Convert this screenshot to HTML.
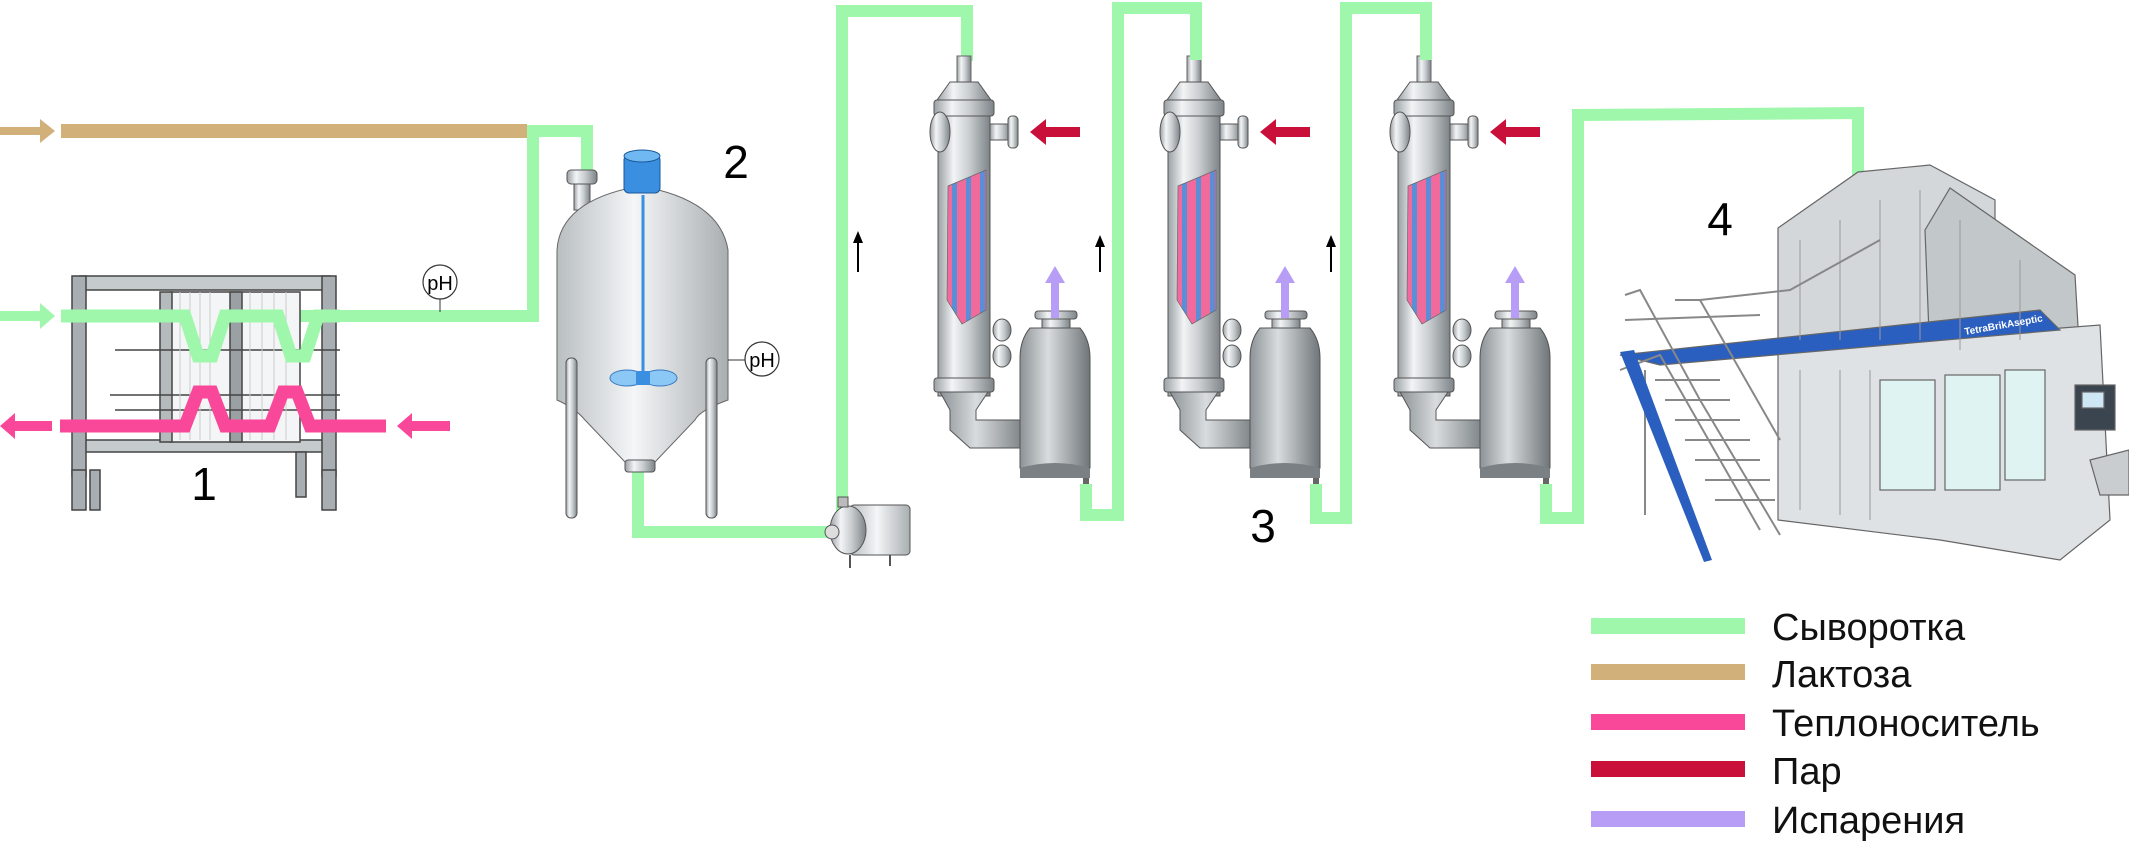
<!DOCTYPE html>
<html><head><meta charset="utf-8"><style>
html,body{margin:0;padding:0;background:#fff;width:2129px;height:846px;overflow:hidden}
svg{display:block}
text{font-family:"Liberation Sans","DejaVu Sans",sans-serif}
</style></head><body>
<svg width="2129" height="846" viewBox="0 0 2129 846" xmlns="http://www.w3.org/2000/svg">
<defs>
<linearGradient id="steel" x1="0" x2="1" y1="0" y2="0">
<stop offset="0" stop-color="#9aa0a4"/><stop offset="0.3" stop-color="#f2f4f5"/><stop offset="0.6" stop-color="#c9cdd0"/><stop offset="1" stop-color="#7d8387"/></linearGradient>
<linearGradient id="tankg" x1="0" x2="1"><stop offset="0" stop-color="#b9bec1"/><stop offset="0.45" stop-color="#f4f6f7"/><stop offset="1" stop-color="#a9aeb1"/></linearGradient>
<linearGradient id="dark" x1="0" x2="1"><stop offset="0" stop-color="#8c9296"/><stop offset="0.4" stop-color="#d9dcde"/><stop offset="1" stop-color="#6f7579"/></linearGradient>
<pattern id="stripes" width="14" height="10" patternUnits="userSpaceOnUse"><rect width="14" height="10" fill="#f06a9c"/><rect width="5" height="10" fill="#5a8fd8"/></pattern>
<g id="evap">
 <rect x="957" y="56" width="14" height="30" fill="url(#steel)" stroke="#666"/>
 <path d="M937 100 L950 82 L978 82 L991 100 Z" fill="url(#steel)" stroke="#555"/>
 <rect x="934" y="100" width="60" height="16" rx="3" fill="url(#steel)" stroke="#555"/>
 <rect x="938" y="116" width="52" height="280" fill="url(#steel)" stroke="#555"/>
 <ellipse cx="940" cy="132" rx="10" ry="20" fill="url(#steel)" stroke="#555"/>
 <rect x="990" y="124" width="20" height="16" fill="url(#steel)" stroke="#555"/>
 <rect x="1008" y="116" width="10" height="32" rx="4" fill="url(#steel)" stroke="#555"/>
 <path d="M948 186 L986 170 L986 310 L962 324 L947 300 Z" fill="url(#stripes)" stroke="#666" stroke-width="0.7"/>
 <ellipse cx="1002" cy="330" rx="9" ry="11" fill="url(#steel)" stroke="#555"/>
 <ellipse cx="1002" cy="356" rx="9" ry="11" fill="url(#steel)" stroke="#555"/>
 <rect x="934" y="378" width="60" height="14" rx="3" fill="url(#steel)" stroke="#555"/>
 <path d="M940 392 L988 392 L976 410 L976 420 L1030 420 L1030 448 L970 448 L950 430 L950 410 Z" fill="url(#dark)" stroke="#555"/>
 <rect x="1042" y="318" width="28" height="10" fill="url(#steel)" stroke="#555"/>
 <rect x="1035" y="311" width="42" height="8" rx="3" fill="url(#steel)" stroke="#555"/>
 <path d="M1030 328 Q1020 340 1020 358 L1020 468 L1090 468 L1090 358 Q1090 340 1080 328 Z" fill="url(#dark)" stroke="#555"/>
 <path d="M1020 468 Q1055 458 1090 468 L1090 478 L1020 478 Z" fill="#7a8084"/>
 <rect x="1083" y="478" width="6" height="8" fill="#666"/>
 <polygon points="1030,132 1046,119 1046,127 1080,127 1080,137 1046,137 1046,145" fill="#c8103a"/>
 <polygon points="1055,266 1045,283 1051,283 1051,318 1059,318 1059,283 1065,283" fill="#b79df5"/>
</g>
</defs>

<!-- lactose -->
<polygon points="0,127 40,127 40,119 55,131 40,143 40,135 0,135" fill="#d2b07a"/>
<rect x="61" y="124" width="466" height="14" fill="#d2b07a"/>
<path d="M527 131 L587 131 L587 174" fill="none" stroke="#9ff7ab" stroke-width="12"/>
<path d="M533 131 L533 316 L61 316" fill="none" stroke="#9ff7ab" stroke-width="12"/>

<!-- HX 1 -->
<g stroke="#444" stroke-width="1.5">
 <rect x="80" y="276" width="250" height="14" fill="#c5cacd"/>
 <rect x="80" y="440" width="250" height="12" fill="#c5cacd"/>
 <rect x="72" y="276" width="14" height="200" fill="#a8aeb2"/>
 <rect x="322" y="276" width="14" height="200" fill="#a8aeb2"/>
 <rect x="170" y="292" width="130" height="150" fill="#f4f5f6"/>
 <rect x="230" y="292" width="12" height="150" fill="#9aa0a4"/>
 <rect x="160" y="292" width="12" height="150" fill="#b5babd"/>
 <line x1="115" y1="350" x2="340" y2="350"/><line x1="110" y1="395" x2="340" y2="395"/><line x1="115" y1="410" x2="340" y2="410"/>
 <rect x="72" y="470" width="14" height="40" fill="#a8aeb2"/><rect x="90" y="470" width="10" height="40" fill="#a8aeb2"/>
 <rect x="322" y="470" width="14" height="40" fill="#a8aeb2"/><rect x="296" y="452" width="10" height="45" fill="#a8aeb2"/>
</g>
<g stroke="#ccc" stroke-width="1"><line x1="180" y1="292" x2="180" y2="440"/><line x1="190" y1="292" x2="190" y2="440"/><line x1="200" y1="292" x2="200" y2="440"/><line x1="210" y1="292" x2="210" y2="440"/><line x1="250" y1="292" x2="250" y2="440"/><line x1="262" y1="292" x2="262" y2="440"/><line x1="274" y1="292" x2="274" y2="440"/><line x1="286" y1="292" x2="286" y2="440"/></g>
<path d="M61 316 L185 316 L198 356 L212 356 L225 316 L278 316 L291 356 L305 356 L318 316 L340 316" fill="none" stroke="#9ff7ab" stroke-width="13"/>
<polygon points="0,311 40,311 40,303 55,316 40,329 40,321 0,321" fill="#9ff7ab"/>
<path d="M60 426 L185 426 L198 392 L212 392 L225 426 L270 426 L283 392 L297 392 L310 426 L386 426" fill="none" stroke="#f9489a" stroke-width="13"/>
<polygon points="0,426 15,413 15,421 52,421 52,431 15,431 15,439" fill="#f9489a"/>
<polygon points="397,426 412,413 412,421 450,421 450,431 412,431 412,439" fill="#f9489a"/>
<line x1="440" y1="298" x2="440" y2="312" stroke="#333"/>
<circle cx="440" cy="282" r="17" fill="#fff" stroke="#333" stroke-width="1.2"/>
<text x="440" y="290" font-size="20" text-anchor="middle">pH</text>
<text x="204" y="500" font-size="46" text-anchor="middle">1</text>

<!-- tank -->
<path d="M638 468 L638 532 L828 532" fill="none" stroke="#9ff7ab" stroke-width="12"/>
<rect x="574" y="180" width="16" height="30" fill="url(#steel)" stroke="#555"/>
<rect x="567" y="170" width="30" height="14" rx="4" fill="url(#steel)" stroke="#555"/>
<path d="M557 250 Q560 200 640 186 Q720 200 728 250 L728 400 Q700 410 695 420 L655 462 L625 462 L585 420 Q575 408 557 400 Z" fill="url(#tankg)" stroke="#666"/>
<rect x="625" y="460" width="30" height="12" rx="3" fill="url(#steel)" stroke="#555"/>
<rect x="566" y="358" width="11" height="160" rx="5" fill="url(#steel)" stroke="#555"/>
<rect x="706" y="358" width="11" height="160" rx="5" fill="url(#steel)" stroke="#555"/>
<rect x="624" y="155" width="36" height="38" rx="5" fill="#3a8fe0" stroke="#1a5a9a"/>
<ellipse cx="642" cy="156" rx="18" ry="6" fill="#6fb8f2" stroke="#1a5a9a"/>
<line x1="643" y1="195" x2="643" y2="372" stroke="#3a8fe0" stroke-width="3"/>
<ellipse cx="627" cy="378" rx="17" ry="8" fill="#8cc8f5" stroke="#3a7ac0"/>
<ellipse cx="660" cy="378" rx="17" ry="8" fill="#8cc8f5" stroke="#3a7ac0"/>
<rect x="636" y="371" width="14" height="14" fill="#3a8fe0"/>
<line x1="728" y1="360" x2="745" y2="360" stroke="#333"/>
<circle cx="762" cy="359" r="17" fill="#fff" stroke="#333" stroke-width="1.2"/>
<text x="762" y="367" font-size="20" text-anchor="middle">pH</text>
<text x="736" y="178" font-size="46" text-anchor="middle">2</text>

<!-- pump -->
<path d="M842 520 L842 11 L967 11 L967 61" fill="none" stroke="#9ff7ab" stroke-width="12"/>
<rect x="850" y="505" width="60" height="50" rx="4" fill="url(#tankg)" stroke="#555"/>
<ellipse cx="848" cy="530" rx="18" ry="24" fill="url(#steel)" stroke="#555"/>
<circle cx="832" cy="532" r="7" fill="#ddd" stroke="#555"/>
<rect x="838" y="497" width="10" height="10" fill="#bbb" stroke="#555"/>
<line x1="850" y1="555" x2="850" y2="568" stroke="#555" stroke-width="2"/><line x1="890" y1="555" x2="890" y2="566" stroke="#555" stroke-width="2"/>
<g fill="#000"><polygon points="858,231 853,243 863,243"/><rect x="857" y="242" width="2" height="30"/>
<polygon points="1100,235 1095,247 1105,247"/><rect x="1099" y="246" width="2" height="26"/>
<polygon points="1331,235 1326,247 1336,247"/><rect x="1330" y="246" width="2" height="26"/></g>

<use href="#evap"/>
<use href="#evap" transform="translate(230,0)"/>
<use href="#evap" transform="translate(460,0)"/>
<path d="M1086 484 L1086 515 L1118 515 L1118 8 L1196 8 L1196 60" fill="none" stroke="#9ff7ab" stroke-width="12"/>
<path d="M1316 484 L1316 518 L1346 518 L1346 8 L1426 8 L1426 60" fill="none" stroke="#9ff7ab" stroke-width="12"/>
<path d="M1546 484 L1546 518 L1578 518 L1578 115 L1858 113 L1858 178" fill="none" stroke="#9ff7ab" stroke-width="12"/>
<text x="1263" y="542" font-size="46" text-anchor="middle">3</text>

<!-- filling machine -->
<g stroke="#666" stroke-width="1.2">
 <polygon points="1778,228 1858,172 1930,165 1995,200 1995,350 1778,350" fill="#d3d7da"/>
 <polygon points="1925,230 1950,188 2075,275 2080,360 1930,360" fill="#c2c7ca"/>
 <polygon points="1778,350 2100,325 2110,520 2060,560 1940,540 1778,520" fill="#dfe2e4"/>
 <polygon points="1620,355 2040,310 2060,330 1660,365" fill="#2b5fbf"/>
 <rect x="1880" y="380" width="55" height="110" fill="#dff3f2"/>
 <rect x="1945" y="375" width="55" height="115" fill="#dff3f2"/>
 <rect x="2005" y="370" width="40" height="110" fill="#dff3f2"/>
 <rect x="2075" y="385" width="40" height="45" fill="#3a4550"/>
 <rect x="2082" y="392" width="22" height="16" fill="#cfe6f5"/>
 <polygon points="2090,460 2129,450 2129,495 2100,495" fill="#c9cdd0"/>
</g>
<g stroke="#999" stroke-width="1" fill="none">
 <line x1="1800" y1="240" x2="1800" y2="340"/><line x1="1840" y1="220" x2="1840" y2="340"/><line x1="1880" y1="200" x2="1880" y2="340"/><line x1="1920" y1="190" x2="1920" y2="340"/>
 <line x1="1800" y1="370" x2="1800" y2="510"/><line x1="1840" y1="370" x2="1840" y2="515"/><line x1="1870" y1="370" x2="1870" y2="520"/>
 <line x1="1960" y1="220" x2="1960" y2="350"/><line x1="2020" y1="260" x2="2020" y2="340"/>
</g>
<text x="1965" y="335" font-size="10" fill="#fff" font-weight="bold" transform="rotate(-10 1965 335)">TetraBrikAseptic</text>
<g stroke="#888" stroke-width="2" fill="none">
 <polyline points="1620,370 1660,355 1760,530"/>
 <polyline points="1625,295 1640,290 1700,400 1780,535"/>
 <polyline points="1675,300 1700,300 1780,440"/>
 <polyline points="1700,300 1790,290 1880,240"/>
 <line x1="1625" y1="320" x2="1760" y2="315"/>
 <line x1="1655" y1="380" x2="1720" y2="380"/><line x1="1665" y1="400" x2="1730" y2="400"/><line x1="1675" y1="420" x2="1740" y2="420"/><line x1="1685" y1="440" x2="1750" y2="440"/><line x1="1695" y1="460" x2="1760" y2="460"/><line x1="1705" y1="480" x2="1770" y2="480"/><line x1="1715" y1="500" x2="1775" y2="500"/>
 <line x1="1645" y1="370" x2="1645" y2="515"/>
</g>
<polygon points="1620,352 1634,350 1712,560 1704,562" fill="#2b5fbf"/>
<text x="1720" y="235" font-size="46" text-anchor="middle">4</text>

<!-- legend -->
<rect x="1591" y="618" width="154" height="16" fill="#9ff7ab"/>
<rect x="1591" y="664" width="154" height="16" fill="#d2b07a"/>
<rect x="1591" y="714" width="154" height="16" fill="#f9489a"/>
<rect x="1591" y="761" width="154" height="16" fill="#c8103a"/>
<rect x="1591" y="811" width="154" height="16" fill="#b79df5"/>
<g font-size="38" fill="#111">
<text x="1772" y="640">Сыворотка</text>
<text x="1772" y="687">Лактоза</text>
<text x="1772" y="736">Теплоноситель</text>
<text x="1772" y="784">Пар</text>
<text x="1772" y="833">Испарения</text>
</g>
</svg>
</body></html>
